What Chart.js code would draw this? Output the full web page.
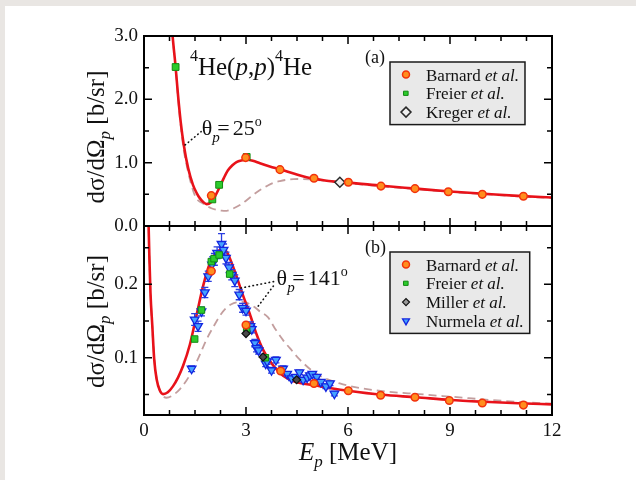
<!DOCTYPE html>
<html>
<head>
<meta charset="utf-8">
<title>4He(p,p)4He elastic scattering</title>
<script src="https://cdn.jsdelivr.net/npm/chart.js@4.4.1/dist/chart.umd.min.js"></script>
<style>
  html, body { margin: 0; padding: 0; background: #fff; }
  #page { position: relative; width: 636px; height: 480px; background: #fff; overflow: hidden; }
  .edge-top  { position: absolute; left: 0; top: 0; width: 636px; height: 6px; background: #e9e6e3; }
  .edge-left { position: absolute; left: 0; top: 0; width: 5px; height: 480px; background: #e9e6e3; }
  canvas { position: absolute; left: 0; top: 0; }
</style>
</head>
<body>
<div id="page">
  <div class="edge-top"></div>
  <div class="edge-left"></div>
  <canvas id="panelA" width="636" height="480"></canvas>
  <canvas id="panelB" width="636" height="480"></canvas>
</div>
<script>
// ---------- Panel (a): theta_p = 25 deg ----------
const fitA_E  = [0.78, 0.84, 0.93, 1.00, 1.08, 1.17, 1.30, 1.44, 1.55, 1.64, 1.74, 1.84, 1.92, 2.00, 2.10, 2.23, 2.35, 2.47, 2.60, 2.72, 2.86, 3.02, 3.20, 3.41, 3.70, 4.00, 4.40, 4.78, 5.20, 5.60, 6.00, 7.00, 8.00, 9.00, 10.0, 11.0, 12.0];
const fitA_xs = [3.45, 3.01, 2.51, 2.07, 1.64, 1.28, 0.91, 0.65, 0.52, 0.44, 0.38, 0.345, 0.355, 0.39, 0.48, 0.62, 0.76, 0.88, 0.96, 1.01, 1.035, 1.045, 1.03, 0.99, 0.94, 0.895, 0.83, 0.77, 0.73, 0.70, 0.685, 0.635, 0.59, 0.545, 0.51, 0.475, 0.45];

const refA_E  = [0.78, 0.84, 0.93, 1.00, 1.08, 1.17, 1.30, 1.40, 1.49, 1.60, 1.72, 1.84, 1.98, 2.13, 2.28, 2.43, 2.60, 2.82, 3.00, 3.21, 3.40, 3.61, 3.80, 4.00, 4.20, 4.39, 4.60, 4.88, 5.20, 5.50, 6.00, 7.00, 8.00, 9.00, 10.0, 11.0, 12.0];
const refA_xs = [3.45, 3.00, 2.50, 2.03, 1.58, 1.20, 0.85, 0.64, 0.49, 0.40, 0.36, 0.32, 0.28, 0.255, 0.243, 0.24, 0.27, 0.33, 0.40, 0.49, 0.565, 0.63, 0.68, 0.71, 0.73, 0.74, 0.742, 0.735, 0.72, 0.705, 0.675, 0.625, 0.582, 0.538, 0.502, 0.468, 0.442];

const barnardA_E  = [1.98, 2.99, 4.00, 5.00, 6.01, 6.97, 7.97, 8.95, 9.95, 11.16];
const barnardA_xs = [0.48, 1.08, 0.89, 0.755, 0.69, 0.63, 0.59, 0.54, 0.50, 0.47];
const freierA_E   = [0.93, 2.01, 2.21, 3.02];
const freierA_xs  = [2.51, 0.42, 0.65, 1.09];
const kregerA_E   = [5.76];
const kregerA_xs  = [0.69];

// ---------- Panel (b): theta_p = 141 deg ----------
const fitB_E  = [0.12, 0.16, 0.19, 0.245, 0.30, 0.37, 0.47, 0.56, 0.70, 0.85, 1.00, 1.15, 1.35, 1.54, 1.74, 1.94, 2.10, 2.20, 2.33, 2.45, 2.52, 2.62, 2.72, 2.92, 3.11, 3.31, 3.50, 3.70, 3.90, 4.09, 4.35, 4.59, 5.00, 5.50, 6.00, 7.00, 8.00, 9.00, 10.0, 11.0, 12.0];
const fitB_xs = [0.31, 0.234, 0.189, 0.143, 0.098, 0.071, 0.055, 0.0505, 0.053, 0.061, 0.073, 0.089, 0.118, 0.157, 0.198, 0.229, 0.242, 0.246, 0.248, 0.243, 0.236, 0.224, 0.211, 0.184, 0.160, 0.132, 0.111, 0.096, 0.084, 0.0755, 0.069, 0.0655, 0.0625, 0.0585, 0.055, 0.0495, 0.0462, 0.0425, 0.040, 0.038, 0.0365];

const refB_E  = [0.12, 0.16, 0.19, 0.245, 0.31, 0.40, 0.50, 0.66, 0.85, 1.05, 1.25, 1.44, 1.64, 1.84, 2.04, 2.23, 2.40, 2.57, 2.72, 2.85, 3.00, 3.11, 3.25, 3.41, 3.65, 3.85, 4.09, 4.29, 4.59, 5.08, 5.76, 6.75, 8.22, 9.20, 10.18, 11.16, 12.0];
const refB_xs = [0.31, 0.234, 0.189, 0.14, 0.094, 0.066, 0.052, 0.0455, 0.049, 0.057, 0.069, 0.084, 0.104, 0.125, 0.142, 0.157, 0.167, 0.173, 0.1755, 0.176, 0.1755, 0.173, 0.169, 0.163, 0.155, 0.140, 0.124, 0.113, 0.097, 0.078, 0.065, 0.056, 0.050, 0.0463, 0.0425, 0.0395, 0.0375];

const barnardB_E  = [1.98, 3.00, 4.02, 5.00, 6.01, 6.96, 7.97, 8.98, 9.95, 11.16];
const barnardB_xs = [0.218, 0.1445, 0.082, 0.065, 0.055, 0.049, 0.0462, 0.0418, 0.0383, 0.0355];
const freierB_E   = [1.49, 1.69, 1.98, 2.06, 2.21, 2.52, 3.02, 3.57];
const freierB_xs  = [0.1255, 0.165, 0.231, 0.235, 0.240, 0.214, 0.137, 0.100];
const millerB_E   = [3.00, 3.50, 4.49];
const millerB_xs  = [0.133, 0.101, 0.070];
const nurmelaB_E  = [1.40, 1.49, 1.59, 1.69, 1.79, 1.89, 2.00, 2.07, 2.15, 2.28, 2.34, 2.41, 2.50, 2.58, 2.67, 2.80, 2.90, 3.00, 3.13, 3.17, 3.26, 3.31, 3.37, 3.58, 3.62, 3.75, 3.88, 4.09, 4.21, 4.34, 4.46, 4.57, 4.68, 4.80, 4.88, 4.95, 5.08, 5.20, 5.35, 5.47, 5.60];
const nurmelaB_xs = [0.085, 0.152, 0.143, 0.163, 0.189, 0.211, 0.227, 0.234, 0.243, 0.255, 0.247, 0.236, 0.223, 0.213, 0.205, 0.186, 0.168, 0.164, 0.143, 0.139, 0.120, 0.113, 0.110, 0.092, 0.095, 0.083, 0.097, 0.085, 0.078, 0.072, 0.074, 0.080, 0.070, 0.073, 0.076, 0.078, 0.074, 0.067, 0.061, 0.065, 0.051];
const nurmelaB_err = [0.004, 0.008, 0.007, 0.006, 0.007, 0.007, 0.008, 0.008, 0.008, 0.014, 0.008, 0.008, 0.007, 0.007, 0.008, 0.007, 0.006, 0.006, 0.006, 0.005, 0.005, 0.005, 0.005, 0.004, 0.004, 0.004, 0.004, 0.004, 0.003, 0.003, 0.003, 0.003, 0.003, 0.003, 0.003, 0.003, 0.003, 0.003, 0.003, 0.003, 0.003];

// ---------- Axis ticks ----------
const energyLabelTicks = [0, 3, 6, 9, 12];
const xsLabelTicksA = [0, 1, 2, 3];
const xsLabelTicksB = [0.1, 0.2];

// ---------- Styling ----------
const SERIF = '"Liberation Serif", "Times New Roman", serif';
const RED = '#e8121a';
const REF = '#c39e9e';
const markers = {
  barnard: { pointStyle: 'circle',  radius: 3.8, rotation: 0,   fill: '#ff8e1e', stroke: '#f2320c', bw: 1.5 },
  freier:  { pointStyle: 'rect',    radius: 4.8, rotation: 0,   fill: '#2ccb2c', stroke: '#138a13', bw: 1.0 },
  kreger:  { pointStyle: 'rectRot', radius: 5.0, rotation: 0,   fill: '#f0f0f0', stroke: '#2a2a2a', bw: 1.5 },
  miller:  { pointStyle: 'rectRot', radius: 4.0, rotation: 0,   fill: '#4a4a4a', stroke: '#111111', bw: 1.2 },
  nurmela: { pointStyle: 'triangle',radius: 5.0, rotation: 180, fill: '#44a2ff', stroke: '#1426e0', bw: 1.3 }
};

const pts = (xs, ys) => xs.map((x, i) => ({ x, y: ys[i] }));
const labelIf = (list, digits) => v => list.some(m => Math.abs(m - v) < 1e-9) ? Number(v).toFixed(digits) : '';

function scatterSet(label, E, xs, m, order, extra) {
  return Object.assign({
    label, data: pts(E, xs), order, showLine: false,
    pointStyle: m.pointStyle, pointRadius: m.radius, pointRotation: m.rotation,
    pointBackgroundColor: m.fill, pointBorderColor: m.stroke, pointBorderWidth: m.bw,
    pointHoverRadius: m.radius
  }, extra || {});
}
function curveSet(label, E, xs, color, width, dash, order) {
  return {
    label, data: pts(E, xs), order, showLine: true, pointRadius: 0, pointHoverRadius: 0,
    borderColor: color, borderWidth: width, borderDash: dash, fill: false,
    cubicInterpolationMode: 'monotone', backgroundColor: color
  };
}

// ---------- Text helpers (mixed roman / italic / sub / superscript) ----------
function runFont(r) { return (r.italic ? 'italic ' : '') + r.size + 'px ' + SERIF; }
function runsWidth(ctx, runs) {
  let w = 0;
  runs.forEach(r => { ctx.font = runFont(r); w += (r.adv != null) ? r.adv : ctx.measureText(r.t).width; });
  return w;
}
function drawRuns(ctx, x, y, runs) {
  let cx = x;
  runs.forEach(r => {
    ctx.font = runFont(r);
    ctx.fillText(r.t, cx, y + (r.dy || 0));
    cx += (r.adv != null) ? r.adv : ctx.measureText(r.t).width;
  });
}

function drawMarker(ctx, m, x, y, radius) {
  ctx.save();
  ctx.fillStyle = m.fill; ctx.strokeStyle = m.stroke; ctx.lineWidth = m.bw;
  const o = { pointStyle: m.pointStyle, radius: radius, rotation: m.rotation, borderWidth: m.bw };
  if (Chart.helpers && Chart.helpers.drawPoint) {
    Chart.helpers.drawPoint(ctx, o, x, y);
  } else {
    ctx.beginPath(); ctx.arc(x, y, radius, 0, Math.PI * 2); ctx.fill(); ctx.stroke();
  }
  ctx.restore();
}

// Frame, inward ticks, error bars, labels, leaders and legend
const panelDecor = {
  id: 'panelDecor',
  beforeDatasetDraw(chart, args) {
    const ds = chart.data.datasets[args.index];
    if (!ds.errors) return;
    const { ctx, chartArea: a, scales: { x, y } } = chart;
    ctx.save();
    ctx.beginPath(); ctx.rect(a.left, a.top, a.right - a.left, a.bottom - a.top); ctx.clip();
    ctx.strokeStyle = ds.errorColor; ctx.lineWidth = 1.3;
    ds.data.forEach((p, i) => {
      const px = x.getPixelForValue(p.x);
      const lo = y.getPixelForValue(p.y - ds.errors[i]);
      const hi = y.getPixelForValue(p.y + ds.errors[i]);
      ctx.beginPath();
      ctx.moveTo(px, lo); ctx.lineTo(px, hi);
      ctx.moveTo(px - 3.5, lo); ctx.lineTo(px + 3.5, lo);
      ctx.moveTo(px - 3.5, hi); ctx.lineTo(px + 3.5, hi);
      ctx.stroke();
    });
    ctx.restore();
  },
  afterDraw(chart, args, opts) {
    const { ctx, chartArea: a, scales: { x, y } } = chart;
    ctx.save();

    // inward tick marks on all four sides
    ctx.strokeStyle = '#000'; ctx.lineWidth = 1.5;
    const isMajor = (v, list) => list.some(m => Math.abs(m - v) < 1e-9);
    x.ticks.forEach(t => {
      const px = x.getPixelForValue(t.value);
      const len = isMajor(t.value, energyLabelTicks) ? 8 : 5;
      ctx.beginPath();
      ctx.moveTo(px, a.bottom); ctx.lineTo(px, a.bottom - len);
      ctx.moveTo(px, a.top); ctx.lineTo(px, a.top + len);
      ctx.stroke();
    });
    y.ticks.forEach(t => {
      const py = y.getPixelForValue(t.value);
      const len = isMajor(t.value, opts.yMajor) ? 8 : 5;
      ctx.beginPath();
      ctx.moveTo(a.left, py); ctx.lineTo(a.left + len, py);
      ctx.moveTo(a.right, py); ctx.lineTo(a.right - len, py);
      ctx.stroke();
    });

    // plot frame
    ctx.lineWidth = 2;
    ctx.strokeRect(a.left, a.top, a.right - a.left, a.bottom - a.top);

    // dotted leaders from the angle labels to the curves
    ctx.strokeStyle = '#111'; ctx.lineWidth = 1.6; ctx.lineCap = 'round';
    ctx.setLineDash([0.5, 3.6]);
    opts.leaders.forEach(l => {
      ctx.beginPath();
      ctx.moveTo(x.getPixelForValue(l[0][0]), y.getPixelForValue(l[0][1]));
      ctx.lineTo(x.getPixelForValue(l[1][0]), y.getPixelForValue(l[1][1]));
      ctx.stroke();
    });
    ctx.setLineDash([]);

    // text labels
    ctx.fillStyle = '#111'; ctx.textBaseline = 'alphabetic'; ctx.textAlign = 'left';
    opts.labels.forEach(lb => {
      drawRuns(ctx, x.getPixelForValue(lb.at[0]), y.getPixelForValue(lb.at[1]), lb.runs);
    });

    // rotated y-axis title
    const yTitle = [
      { t: 'd\u03c3/d\u03a9', size: 25 },
      { t: 'p', size: 17, italic: true, dy: 6 },
      { t: ' [b/sr]', size: 25 }
    ];
    const tw = runsWidth(ctx, yTitle);
    ctx.save();
    ctx.translate(104, (a.top + a.bottom) / 2 + opts.yTitleShift);
    ctx.rotate(-Math.PI / 2);
    drawRuns(ctx, -tw / 2, 0, yTitle);
    ctx.restore();

    // x-axis title (bottom panel only)
    if (opts.xTitle) {
      const xTitle = [
        { t: 'E', size: 25, italic: true },
        { t: 'p', size: 17, italic: true, dy: 7 },
        { t: ' [MeV]', size: 25 }
      ];
      const xw = runsWidth(ctx, xTitle);
      drawRuns(ctx, (a.left + a.right) / 2 - xw / 2, 460, xTitle);
    }

    // legend box
    const lg = opts.legend;
    const left = a.left + 246, top = a.top + 26;
    const rowH = 18.8, first = 12.5;
    let maxW = 0;
    lg.forEach(e => {
      const w = runsWidth(ctx, [{ t: e.name + ' ', size: 17 }, { t: 'et al.', size: 17, italic: true }]);
      maxW = Math.max(maxW, w);
    });
    const w = 36 + maxW + 6;
    const h = first + rowH * (lg.length - 1) + 12.5;
    ctx.fillStyle = '#e9e9e9';
    ctx.fillRect(left, top, w, h);
    ctx.strokeStyle = '#1a1a1a'; ctx.lineWidth = 1.5;
    ctx.strokeRect(left, top, w, h);
    lg.forEach((e, i) => {
      const cy = top + first + rowH * i;
      drawMarker(ctx, e.marker, left + 16, cy, e.radius);
      ctx.fillStyle = '#111';
      drawRuns(ctx, left + 36, cy + 6, [{ t: e.name + ' ', size: 17 }, { t: 'et al.', size: 17, italic: true }]);
    });

    ctx.restore();
  }
};

function makePanel(id, cfg) {
  return new Chart(document.getElementById(id), {
    type: 'scatter',
    data: { datasets: cfg.datasets },
    plugins: [panelDecor],
    options: {
      responsive: false,
      animation: false,
      events: [],
      layout: { padding: cfg.padding },
      scales: {
        x: {
          type: 'linear', min: 0, max: 12,
          ticks: {
            stepSize: 0.75, autoSkip: false, maxRotation: 0, includeBounds: false,
            display: cfg.showX, padding: 5, color: '#111',
            font: { family: SERIF, size: 19 },
            callback: labelIf(energyLabelTicks, 0)
          },
          grid: { display: false, drawTicks: false },
          border: { display: false },
          afterFit: s => { s.height = cfg.showX ? 65 : 0; }
        },
        y: {
          type: 'linear', min: cfg.yMin, max: cfg.yMax,
          ticks: {
            stepSize: cfg.yStep, autoSkip: false, includeBounds: false,
            padding: 6, color: '#111',
            font: { family: SERIF, size: 19 },
            callback: labelIf(cfg.yLabels, 1)
          },
          grid: { display: false, drawTicks: false },
          border: { display: false },
          afterFit: s => { s.width = 144; }
        }
      },
      plugins: {
        legend: { display: false },
        tooltip: { enabled: false },
        panelDecor: cfg.decor
      }
    }
  });
}

// Panel (a)
makePanel('panelA', {
  padding: { top: 36, bottom: 254, left: 0, right: 84 },
  showX: false,
  yMin: 0, yMax: 3.0, yStep: 0.5, yLabels: xsLabelTicksA,
  datasets: [
    scatterSet('Barnard et al.', barnardA_E, barnardA_xs, markers.barnard, 0),
    scatterSet('Freier et al.', freierA_E, freierA_xs, markers.freier, 1),
    scatterSet('Kreger et al.', kregerA_E, kregerA_xs, markers.kreger, 2),
    curveSet('fit', fitA_E, fitA_xs, RED, 2.6, [], 8),
    curveSet('reference', refA_E, refA_xs, REF, 1.8, [8, 5], 9)
  ],
  decor: {
    yMajor: xsLabelTicksA,
    yTitleShift: 6,
    xTitle: false,
    leaders: [[[1.21, 1.28], [1.68, 1.49]]],
    labels: [
      { at: [1.35, 2.38], runs: [
        { t: '4', size: 16, dy: -14 }, { t: 'He(', size: 25 }, { t: 'p', size: 25, italic: true },
        { t: ',', size: 25 }, { t: 'p', size: 25, italic: true }, { t: ')', size: 25 },
        { t: '4', size: 16, dy: -14 }, { t: 'He', size: 25 } ] },
      { at: [6.5, 2.57], runs: [{ t: '(a)', size: 18 }] },
      { at: [1.70, 1.44], runs: [
        { t: '\u03b8', size: 22 }, { t: 'p', size: 15, italic: true, dy: 7, adv: 5 },
        { t: '= ', size: 22, adv: 15.5 }, { t: '25', size: 22 }, { t: 'o', size: 14, dy: -9 } ] }
    ],
    legend: [
      { name: 'Barnard', marker: markers.barnard, radius: 3.5 },
      { name: 'Freier', marker: markers.freier, radius: 3.0 },
      { name: 'Kreger', marker: markers.kreger, radius: 5.0 }
    ]
  }
});

// Panel (b)
makePanel('panelB', {
  padding: { top: 226, bottom: 0, left: 0, right: 84 },
  showX: true,
  yMin: 0.022, yMax: 0.2795, yStep: 0.05, yLabels: xsLabelTicksB,
  datasets: [
    scatterSet('Barnard et al.', barnardB_E, barnardB_xs, markers.barnard, 0),
    scatterSet('Miller et al.', millerB_E, millerB_xs, markers.miller, 1),
    scatterSet('Freier et al.', freierB_E, freierB_xs, markers.freier, 2, { pointRadius: 4.6 }),
    scatterSet('Nurmela et al.', nurmelaB_E, nurmelaB_xs, markers.nurmela, 3,
      { errors: nurmelaB_err, errorColor: '#2a3ee0' }),
    curveSet('fit', fitB_E, fitB_xs, RED, 2.6, [], 8),
    curveSet('reference', refB_E, refB_xs, REF, 1.8, [8, 5], 9)
  ],
  decor: {
    yMajor: xsLabelTicksB,
    yTitleShift: 1,
    xTitle: true,
    leaders: [
      [[2.85, 0.195], [3.82, 0.2038]],
      [[3.36, 0.1704], [3.85, 0.2004]]
    ],
    labels: [
      { at: [6.5, 0.2426], runs: [{ t: '(b)', size: 18 }] },
      { at: [3.90, 0.199], runs: [
        { t: '\u03b8', size: 22 }, { t: 'p', size: 15, italic: true, dy: 7, adv: 5 },
        { t: '= ', size: 22, adv: 15.5 }, { t: '141', size: 22 }, { t: 'o', size: 14, dy: -9 } ] }
    ],
    legend: [
      { name: 'Barnard', marker: markers.barnard, radius: 3.5 },
      { name: 'Freier', marker: markers.freier, radius: 3.0 },
      { name: 'Miller', marker: Object.assign({}, markers.miller, { fill: '#9a9a9a' }), radius: 3.5 },
      { name: 'Nurmela', marker: markers.nurmela, radius: 4.0 }
    ]
  }
});
</script>
</body>
</html>
